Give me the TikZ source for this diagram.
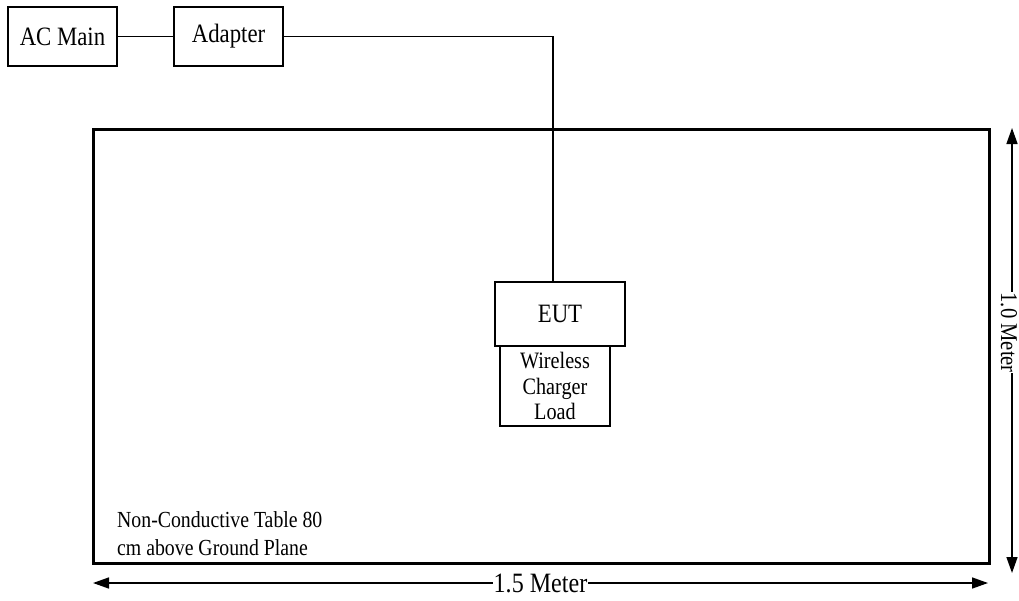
\documentclass[tikz,border=0pt]{standalone}
\usepackage{fontspec}
\setmainfont{Liberation Serif}[FakeStretch=0.86]
\usetikzlibrary{arrows.meta}
\begin{document}
\begin{tikzpicture}[x=1pt,y=-1pt,
  box/.style={draw,line width=1.3pt,inner sep=0pt,align=center},
  wire/.style={line width=1.3pt},
  dim/.style={line width=1.5pt,{Triangle[length=16pt,width=11pt]}-{Triangle[length=16pt,width=11pt]}},
  dimlabel/.style={fill=white,inner sep=1pt,font=\fontsize{25}{28}\selectfont},
  lbl/.style={font=\fontsize{26.5}{28}\selectfont}]
\useasboundingbox (0,0) rectangle (1019,600);
\node[box,lbl,minimum width=109pt,minimum height=59pt] (acmain) at (62.5,36.5) {AC Main};
\node[box,lbl,minimum width=109pt,minimum height=59pt] (adapter) at (228.5,36.5) {Adapter};
\node[draw,line width=3pt,minimum width=896pt,minimum height=434pt,inner sep=0pt] (table) at (541,346) {};
\node[box,lbl,minimum width=130pt,minimum height=64pt] (eut) at (560,314) {EUT};
\node[box,font=\fontsize{23.5}{25.5}\selectfont,minimum width=110pt,minimum height=80pt] (wcl) at (555,386) {Wireless\\Charger\\Load};
\node[anchor=west,align=left,inner sep=0pt,font=\fontsize{23}{28}\selectfont] (tabletext) at (117,534) {Non-Conductive Table 80\\cm above Ground Plane};
\draw[wire] (acmain.east) -- (adapter.west);
\draw[wire] (adapter.east) -| ([xshift=-7pt]eut.north);
\coordinate (vtop) at (1012,128);
\coordinate (vbot) at (1012,573);
\coordinate (hl) at (93,583);
\coordinate (hr) at (988,583);
\draw[dim] (vtop) -- node[dimlabel,xshift=-3pt,rotate=-90,pos=0.46,inner sep=0.5pt,font=\fontsize{24}{26}\selectfont] (vlabel) {1.0 Meter} (vbot);
\draw[dim] (hl) -- node[dimlabel,midway,font=\fontsize{28}{30}\selectfont] (hlabel) {1.5 Meter} (hr);
\end{tikzpicture}
\end{document}
